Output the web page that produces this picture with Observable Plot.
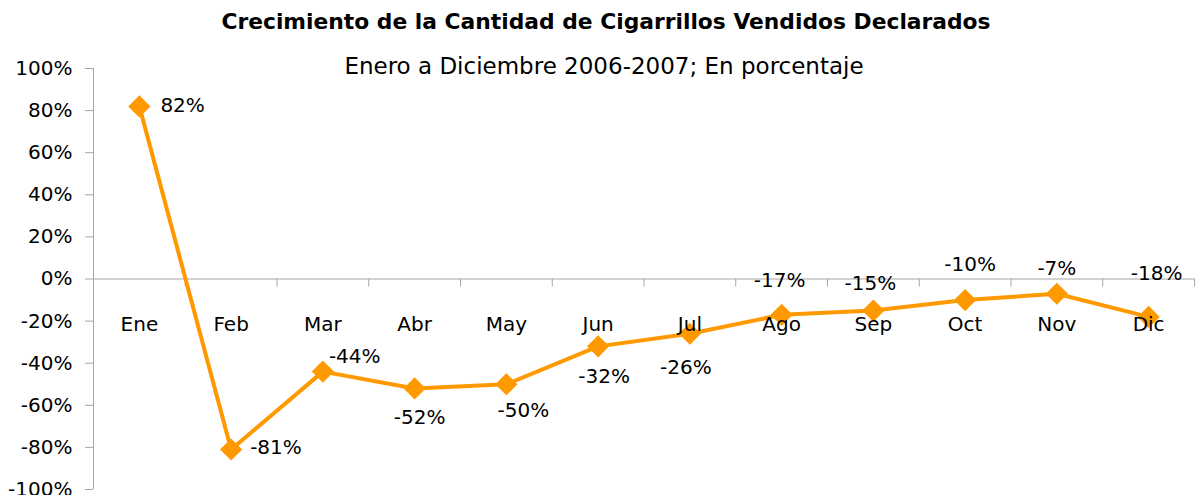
<!DOCTYPE html>
<html><head><meta charset="utf-8">
<script src="https://cdn.jsdelivr.net/npm/d3@7"></script>
<script src="https://cdn.jsdelivr.net/npm/@observablehq/plot@0.6"></script>
<style>body{margin:0;background:#fff;} #chart svg{display:block;}</style>
</head><body><div id="chart"></div>
<script>
const months = ["Ene","Feb","Mar","Abr","May","Jun","Jul","Ago","Sep","Oct","Nov","Dic"];
const growth = [82,-81,-44,-52,-50,-32,-26,-17,-15,-10,-7,-18];
const yTicks = [100,80,60,40,20,0,-20,-40,-60,-80,-100];
const title = "Crecimiento de la Cantidad de Cigarrillos Vendidos Declarados";
const subtitle = "Enero a Diciembre 2006-2007; En porcentaje";

const data = months.map((m, i) => ({month: m, idx: i + 0.5, value: growth[i], label: growth[i] + "%"}));
const boundaries = months.map((m, i) => i + 1);

// label placement (style): [dx, dy, anchor]
const place = {
  Ene: [21, -1, "start"], Feb: [19, -2, "start"], Mar: [6, -15, "start"],
  Abr: [5, 29, "middle"], May: [17, 26, "middle"], Jun: [6, 30, "middle"],
  Jul: [-4, 34, "middle"], Ago: [-2, -34, "middle"], Sep: [-3, -27, "middle"],
  Oct: [5, -35, "middle"], Nov: [0, -25, "middle"], Dic: [8, -43, "middle"]
};
const orange = "#FF9900";
const axisGray = "#a6a6a6";
const font = "DejaVu Sans";

const labelMarks = data.map(d => Plot.text([d], {
  x: "idx", y: "value", text: "label",
  dx: place[d.month][0], dy: place[d.month][1], textAnchor: place[d.month][2],
  fontSize: 20, fill: "black"
}));

const chart = Plot.plot({
  width: 1196, height: 495,
  marginTop: 68, marginBottom: 6, marginLeft: 93, marginRight: 2,
  style: {fontFamily: font, background: "white"},
  x: {domain: [0, months.length], axis: null},
  y: {domain: [-100, 100], axis: null},
  marks: [
    Plot.ruleX([0], {stroke: axisGray, strokeWidth: 1}),
    Plot.ruleY([0], {stroke: axisGray, strokeWidth: 1}),
    Plot.ruleX(boundaries, {y1: 0, y2: -3.8, stroke: axisGray}),
    Plot.axisY({ticks: yTicks, tickSize: 8, tickPadding: 13, tickFormat: d => d + "%",
      stroke: axisGray, fill: "black", fontSize: 20, label: null}),
    Plot.line(data, {x: "idx", y: "value", stroke: orange, strokeWidth: 4}),
    Plot.dot(data, {x: "idx", y: "value", symbol: "diamond2", r: 10, fill: orange, stroke: "none"}),
    ...labelMarks,
    Plot.text(data, {x: "idx", y: 0, text: "month", dy: 46, fontSize: 20, fill: "black"}),
    Plot.text([title], {frameAnchor: "top", lineAnchor: "middle", dx: -38, dy: -46, fontSize: 21.8, fontWeight: "bold", fill: "black"}),
    Plot.text([subtitle], {frameAnchor: "top", lineAnchor: "middle", dx: -40, dy: -2, fontSize: 23, fill: "black"})
  ]
});
document.getElementById("chart").appendChild(chart);
</script>
</body></html>
